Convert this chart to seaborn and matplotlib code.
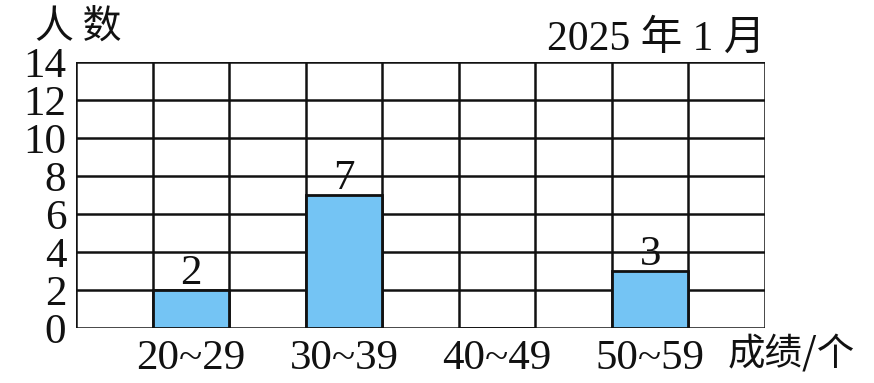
import matplotlib
matplotlib.use("Agg")
import matplotlib.pyplot as plt
import seaborn as sns
import numpy as np

categories = ["20~29", "30~39", "40~49", "50~59"]
values = [2, 7, 0, 3]
y_ticks = [0, 2, 4, 6, 8, 10, 12, 14]
y_label = "人 数"
x_label = "成绩/个"
date_text = "2025 年 1 月"

sns.set_theme(style="white")
serif = ["Liberation Serif", "Noto Sans CJK SC", "DejaVu Sans"]
cjk = ["Noto Sans CJK SC", "Liberation Serif", "DejaVu Sans"]
plt.rcParams["font.family"] = serif

fig = plt.figure(figsize=(8.74, 3.83), dpi=100)
ax = fig.add_axes([76 / 874, 1 - 328 / 383, (765 - 76) / 874, (328 - 62) / 383])

sns.barplot(x=categories, y=values, ax=ax, width=0.5, color="#74c4f4",
            edgecolor="#111111", linewidth=2, saturation=1, zorder=3)

ax.set_xlim(-0.75, len(categories) - 0.25)
ax.set_ylim(0, max(y_ticks))
for xv in np.arange(-0.75, len(categories) - 0.25 + 0.01, 0.5):
    ax.axvline(xv, color="#111111", lw=1.8, zorder=1)
for yv in y_ticks:
    ax.axhline(yv, color="#111111", lw=1.8, zorder=1)
for s in ax.spines.values():
    s.set_visible(False)

ax.set_yticks(y_ticks)
ax.set_yticklabels([str(t) for t in y_ticks], fontsize=31, family=serif)
ax.set_xticks(range(len(categories)))
ax.set_xticklabels(categories, fontsize=31, family=serif)
ax.tick_params(axis="both", length=0, colors="#111111")
ax.tick_params(axis="x", pad=8)
ax.tick_params(axis="y", pad=7)
ax.set_xlabel("")
ax.set_ylabel("")

for i, v in enumerate(values):
    if v > 0:
        ax.text(i, v - 0.15, str(v), ha="center", va="bottom", fontsize=31,
                family=serif, color="#111111", zorder=4)

fig.text(35 / 874, 1 - 28 / 383, y_label, fontsize=28, family=cjk,
         va="center", ha="left", color="#111111")
fig.text(765 / 874, 1 - 40 / 383, date_text, fontsize=30, family=serif,
         va="center", ha="right", color="#111111")
fig.text(728 / 874, 1 - 355 / 383, x_label, fontsize=27, family=cjk,
         va="center", ha="left", color="#111111")

fig.savefig("out.png", dpi=100, facecolor="white")
